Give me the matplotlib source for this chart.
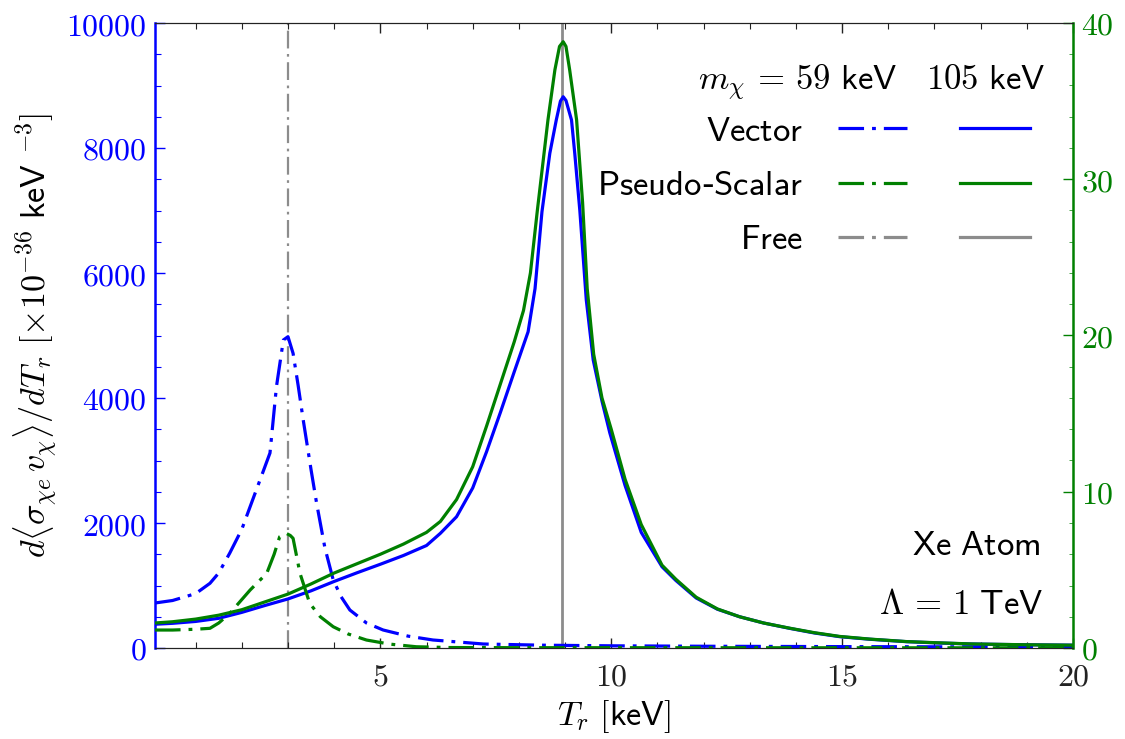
import matplotlib
matplotlib.use("Agg")
import matplotlib.pyplot as plt
from matplotlib.ticker import MultipleLocator, FuncFormatter
from matplotlib.lines import Line2D

plt.rcParams['mathtext.fontset'] = 'cm'
plt.rcParams['font.family'] = ['DejaVu Sans']

# ---------------- data ----------------
# Vector, m_chi = 105 keV (left axis)
x_v105 = [0.12, 0.5, 1.0, 1.5, 2.0, 2.5, 3.0, 3.5, 4.0, 4.5, 5.0, 5.5, 6.0, 6.3, 6.65,
          7.0, 7.3, 7.6, 7.9, 8.2, 8.35, 8.5, 8.67, 8.81, 8.9, 8.96, 9.02, 9.14, 9.21,
          9.32, 9.46, 9.61, 9.8, 9.97, 10.3, 10.65, 11.1, 11.4, 11.84, 12.3, 12.78,
          13.3, 13.86, 14.4, 14.95, 15.6, 16.4, 17.1, 17.8, 18.9, 20.0]
y_v105 = [380, 395, 425, 475, 570, 680, 785, 915, 1065, 1205, 1340, 1480, 1640, 1835, 2100,
          2560, 3140, 3770, 4420, 5060, 5750, 6980, 7915, 8448, 8750, 8820, 8760, 8448, 7915,
          7000, 5568, 4608, 3950, 3440, 2600, 1850, 1300, 1080, 800, 620, 500,
          400, 315, 240, 181, 140, 101, 80, 64, 52, 45]

# Pseudo-Scalar, m_chi = 105 keV (right axis)
x_ps105 = [0.12, 0.5, 1.0, 1.5, 2.0, 2.5, 3.0, 3.5, 4.0, 4.5, 5.0, 5.5, 6.0, 6.3, 6.65,
           7.0, 7.3, 7.6, 7.9, 8.1, 8.25, 8.4, 8.63, 8.78, 8.88, 8.96, 9.02, 9.10, 9.25,
           9.38, 9.48, 9.62, 9.8, 10.0, 10.3, 10.65, 11.1, 11.4, 11.84, 12.3, 12.78,
           13.3, 13.86, 14.4, 14.95, 15.6, 16.4, 17.1, 17.8, 18.9, 20.0]
y_ps105 = [1.6, 1.68, 1.85, 2.1, 2.45, 2.95, 3.45, 4.1, 4.8, 5.4, 6.0, 6.65, 7.4, 8.1, 9.5,
           11.6, 14.2, 16.9, 19.6, 21.6, 24.0, 28.0, 33.8, 37.0, 38.5, 38.8, 38.5, 37.0, 33.8,
           28.5, 23.0, 18.8, 16.0, 14.0, 10.8, 7.9, 5.3, 4.4, 3.25, 2.5, 2.0,
           1.6, 1.27, 0.98, 0.74, 0.57, 0.41, 0.33, 0.26, 0.21, 0.18]

# Vector, m_chi = 59 keV (left axis)
x_v59 = [0.12, 0.5, 1.0, 1.31, 1.5, 1.74, 2.0, 2.18, 2.4, 2.61, 2.75, 2.9, 3.0, 3.11,
         3.22, 3.33, 3.5, 3.62, 3.8, 3.98, 4.15, 4.34, 4.7, 5.06, 5.6, 6.14, 7.23,
         8.5, 10.0, 12.0, 15.0, 20.0]
y_v59 = [720, 760, 870, 1035, 1200, 1520, 1900, 2261, 2700, 3120, 4181, 4928, 4981, 4715,
         4200, 3648, 2850, 2315, 1600, 1088, 820, 608, 400, 288, 190, 128, 64,
         45, 35, 28, 22, 15]

# Pseudo-Scalar, m_chi = 59 keV (right axis)
x_ps59 = [0.12, 0.5, 1.0, 1.31, 1.5, 1.74, 2.0, 2.18, 2.54, 2.7, 2.82, 2.96, 3.05, 3.11,
          3.26, 3.47, 3.7, 3.98, 4.3, 4.7, 5.2, 5.78, 6.5, 8.0, 20.0]
y_ps59 = [1.15, 1.15, 1.2, 1.26, 1.6, 2.22, 3.1, 3.71, 4.78, 6.0, 7.12, 7.34, 7.2, 7.02,
          4.78, 2.86, 2.0, 1.36, 0.9, 0.51, 0.25, 0.08, 0.03, 0.02, 0.01]

# Free-electron recoil energies
free_59 = 3.0
free_105 = 8.94

xticks = [5, 10, 15, 20]
yticks_left = [0, 2000, 4000, 6000, 8000, 10000]
yticks_right = [0, 10, 20, 30, 40]

# ---------------- style ----------------
BLUE = '#0000ff'
GREEN = '#008000'
GRAY = '#8c8c8c'
DD = (0, (8, 2.5, 1.2, 2.5))
LW = 2.3
FT = 23   # tick labels
FL = 24.5 # axis labels
FS = 25   # legend / annotations

fig = plt.figure(figsize=(11.25, 7.39), dpi=100)
ax = fig.add_axes([155 / 1125, 1 - 648 / 739, (1073 - 155) / 1125, (648 - 23) / 739])
ax2 = ax.twinx()

ax.axvline(free_59, color=GRAY, lw=1.6, ls=DD, zorder=1)
ax.axvline(free_105, color=GRAY, lw=2.0, ls='-', zorder=1)

ax.plot(x_v59, y_v59, color=BLUE, lw=LW, ls=DD, zorder=3)
ax.plot(x_v105, y_v105, color=BLUE, lw=LW, ls='-', zorder=3)
ax2.plot(x_ps59, y_ps59, color=GREEN, lw=LW, ls=DD, zorder=3)
ax2.plot(x_ps105, y_ps105, color=GREEN, lw=LW, ls='-', zorder=3)

ax.set_xlim(0.12, 20)
ax.set_ylim(0, 10000)
ax2.set_ylim(0, 40)

fmt = FuncFormatter(lambda v, p: r'$%d$' % round(v))
ax.set_xticks(xticks)
ax.xaxis.set_minor_locator(MultipleLocator(1))
ax.xaxis.set_major_formatter(fmt)
ax.set_yticks(yticks_left)
ax.yaxis.set_minor_locator(MultipleLocator(500))
ax.yaxis.set_major_formatter(fmt)
ax2.set_yticks(yticks_right)
ax2.yaxis.set_minor_locator(MultipleLocator(2))
ax2.yaxis.set_major_formatter(fmt)

ax.tick_params(axis='x', which='both', direction='in', top=True, labelsize=FT, pad=10, colors='#222222')
ax.tick_params(axis='x', which='major', length=7, width=1)
ax.tick_params(axis='x', which='minor', length=4, width=0.8)
ax.tick_params(axis='y', which='both', direction='in', colors=BLUE, labelsize=FT, pad=6)
ax.tick_params(axis='y', which='major', length=7, width=1)
ax.tick_params(axis='y', which='minor', length=4, width=0.8)
ax2.tick_params(axis='y', which='both', direction='in', colors=GREEN, labelsize=FT, pad=6)
ax2.tick_params(axis='y', which='major', length=7, width=1)
ax2.tick_params(axis='y', which='minor', length=3, width=0.5)

for a in (ax, ax2):
    a.spines['left'].set_color(BLUE)
    a.spines['left'].set_linewidth(1.8)
    a.spines['right'].set_color(GREEN)
    a.spines['right'].set_linewidth(1.8)
    a.spines['top'].set_color('#222222')
    a.spines['bottom'].set_color('#222222')
ax2.spines['left'].set_visible(False)
ax.spines['right'].set_visible(False)

ax.set_xlabel(r'$T_r\ \mathsf{[keV]}$', fontsize=FL, labelpad=4)
ax.set_ylabel(r'$d\langle\sigma_{\chi e}\, v_\chi\rangle/dT_r\ [\times 10^{-36}\ \mathsf{keV}\ ^{-3}]$',
              fontsize=FL, labelpad=5)

# legend
h = [Line2D([], [], color=BLUE, lw=LW, ls=DD),
     Line2D([], [], color=GREEN, lw=LW, ls=DD),
     Line2D([], [], color=GRAY, lw=LW, ls=DD),
     Line2D([], [], color=BLUE, lw=LW, ls='-'),
     Line2D([], [], color=GREEN, lw=LW, ls='-'),
     Line2D([], [], color=GRAY, lw=LW, ls='-')]
labels = [r'$\mathsf{Vector}$', r'$\mathsf{Pseudo}$-$\mathsf{Scalar}$', r'$\mathsf{Free}$', '', '', '']
leg = ax2.legend(h, labels, ncol=2, markerfirst=False, frameon=False, fontsize=FS,
                 handlelength=2.0, handletextpad=1.0, columnspacing=0.53,
                 labelspacing=0.58, loc='upper right', bbox_to_anchor=(0.953, 0.855),
                 borderpad=0, borderaxespad=0, alignment='right')

ax2.text(0.9695, 0.893, r'$m_\chi\, =\, 59\ \mathsf{keV}\quad 105\ \mathsf{keV}$',
         transform=ax.transAxes, ha='right', va='baseline', fontsize=FS)
ax2.text(0.965, 0.165, r'$\mathsf{Xe\ Atom}$', transform=ax.transAxes, ha='right', va='center', fontsize=FS)
ax2.text(0.968, 0.07, r'$\Lambda\, =\, \mathsf{1\ TeV}$', transform=ax.transAxes, ha='right', va='center', fontsize=FS)

fig.savefig('out.png', dpi=100)
